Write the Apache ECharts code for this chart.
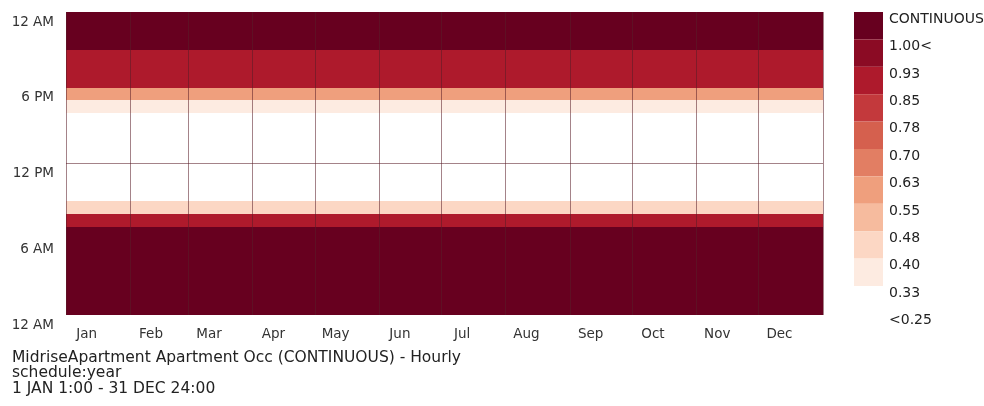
<!DOCTYPE html>
<html>
<head>
<meta charset="utf-8">
<script src="https://cdn.jsdelivr.net/npm/echarts@6/dist/echarts.min.js"></script>
<style>
  html, body { margin: 0; padding: 0; background: #fff; }
  #chart { width: 984px; height: 406px; }
</style>
</head>
<body>
<div id="chart"></div>
<script>
// hourly occupancy fraction, hour 0 (midnight) .. hour 23, same every day
var hourProfile = [1, 1, 1, 1, 1, 1, 1, 0.87, 0.44, 0.25, 0.25, 0.25,
                   0.25, 0.25, 0.25, 0.25, 0.36, 0.57, 0.87, 0.87, 0.87, 1, 1, 1];
var dayCount = 365;
var monthNames = ['Jan', 'Feb', 'Mar', 'Apr', 'May', 'Jun', 'Jul', 'Aug', 'Sep', 'Oct', 'Nov', 'Dec'];
var monthStarts = [0, 31, 59, 90, 120, 151, 181, 212, 243, 273, 304, 334];
var hourTicks = [0, 6, 12, 18, 24];
var hourTickLabels = ['12 AM', '6 AM', '12 PM', '6 PM', '12 AM'];
// legend bins, from lowest to highest
var binLow = [null, 0.25, 0.33, 0.40, 0.48, 0.55, 0.63, 0.70, 0.78, 0.85, 0.93, 1.00];
var binLabels = ['<0.25', '0.33', '0.40', '0.48', '0.55', '0.63', '0.70', '0.78', '0.85', '0.93', '1.00<', 'CONTINUOUS'];
var binColors = ['#ffffff', '#ffffff', '#fdebe1', '#fcd7c4', '#f6bb9e', '#ef9f7d',
                 '#e27e63', '#d5604e', '#c3393c', '#ae1a2c', '#8b0b24', '#67001f'];

var cells = [];
for (var d = 0; d < dayCount; d++) {
  for (var h = 0; h < 24; h++) {
    cells.push([d, h, hourProfile[h]]);
  }
}

// month name sits about ten days into each month
var monthLabelAt = monthStarts.map(function (s) { return s + 10; });

var pieces = binLabels.map(function (lab, i) {
  // trailing newline lifts the text to the top edge of its box
  var p = { label: lab + '\n', color: binColors[i] };
  if (i === 0) { p.max = 0.25; }
  else if (i === 1) { p.gt = 0.25; p.lt = binLow[2]; }
  else if (i === binLabels.length - 1) { p.min = 1.0; }
  else { p.gte = binLow[i]; p.lt = binLow[i + 1]; }
  return p;
});

var gridLines = monthStarts.concat([dayCount]).map(function (v) { return { xAxis: v }; });
gridLines.push({ yAxis: 12 });

function renderCell(params, api) {
  var p0 = api.coord([api.value(0), api.value(1) + 1]);
  var p1 = api.coord([api.value(0) + 1, api.value(1)]);
  var x0 = Math.round(p0[0]), y0 = Math.round(p0[1]);
  return {
    type: 'rect',
    shape: { x: x0, y: y0, width: Math.round(p1[0]) - x0, height: Math.round(p1[1]) - y0 },
    style: { fill: api.visual('color') }
  };
}

var font = 'DejaVu Sans';
var chart = echarts.init(document.getElementById('chart'));
chart.setOption({
  animation: false,
  textStyle: { fontFamily: font },
  title: {
    text: 'MidriseApartment Apartment Occ (CONTINUOUS) - Hourly\nschedule:year\n1 JAN 1:00 - 31 DEC 24:00',
    left: 12,
    top: 350,
    padding: 0,
    textStyle: { fontFamily: font, fontSize: 15.5, fontWeight: 'normal', color: '#222', lineHeight: 15.5 }
  },
  grid: { left: 66, right: 161, top: 12, bottom: 91 },
  xAxis: {
    type: 'value',
    min: 0,
    max: dayCount,
    axisLine: { show: false },
    axisTick: { show: false },
    splitLine: { show: false },
    axisLabel: {
      customValues: monthLabelAt,
      formatter: function (v) { return monthNames[monthLabelAt.indexOf(v)]; },
      margin: 12,
      fontSize: 13.5,
      color: '#333'
    }
  },
  yAxis: {
    type: 'value',
    min: 0,
    max: 24,
    interval: 6,
    axisLine: { show: false },
    axisTick: { show: false },
    splitLine: { show: false },
    axisLabel: {
      formatter: function (v) { return hourTickLabels[hourTicks.indexOf(v)]; },
      verticalAlign: 'top',
      padding: [3, 0, 0, 0],
      margin: 12,
      fontSize: 13.5,
      color: '#333'
    }
  },
  visualMap: {
    type: 'piecewise',
    pieces: pieces,
    dimension: 2,
    seriesIndex: 0,
    orient: 'vertical',
    align: 'left',
    left: 854,
    top: 12,
    padding: 0,
    itemWidth: 29,
    itemHeight: 27.4,
    itemGap: 0,
    textGap: 6,
    itemSymbol: 'rect',
    selectedMode: false,
    hoverLink: false,
    textStyle: { fontFamily: font, fontSize: 14, color: '#222', lineHeight: 13 }
  },
  series: [
    {
      type: 'custom',
      data: cells,
      renderItem: renderCell,
      encode: { x: 0, y: 1 },
      progressive: 0,
      silent: true
    },
    {
      type: 'line',
      data: [],
      markLine: {
        silent: true,
        symbol: ['none', 'none'],
        label: { show: false },
        lineStyle: { color: 'rgba(90,30,40,0.55)', width: 1, type: 'solid' },
        data: gridLines
      }
    }
  ]
});
</script>
</body>
</html>
